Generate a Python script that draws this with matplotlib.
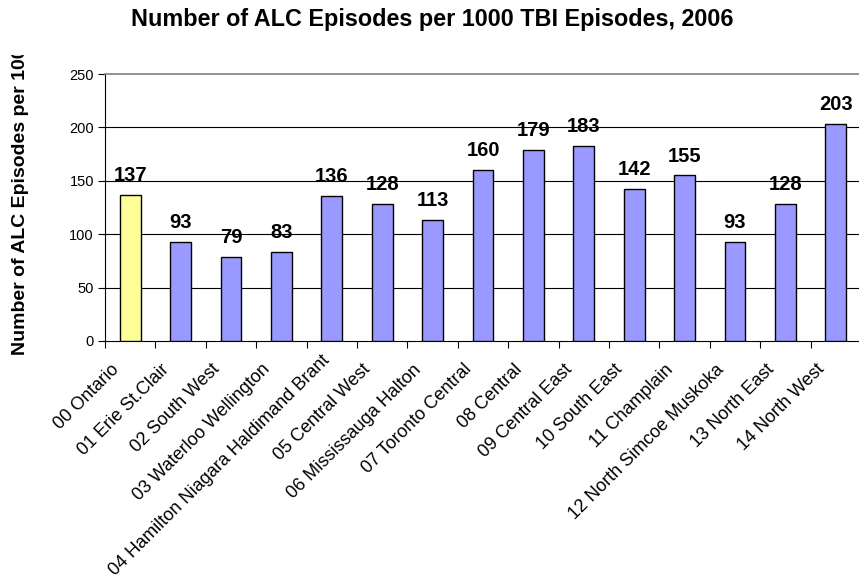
import numpy as np
import matplotlib
matplotlib.use("Agg")
import matplotlib.pyplot as plt
from matplotlib.transforms import Bbox, ScaledTranslation

plt.rcParams['font.family'] = ['Liberation Sans', 'DejaVu Sans']

# data
regions = ["00 Ontario", "01 Erie St.Clair", "02 South West", "03 Waterloo Wellington",
           "04 Hamilton Niagara Haldimand Brant", "05 Central West", "06 Mississauga Halton",
           "07 Toronto Central", "08 Central", "09 Central East", "10 South East",
           "11 Champlain", "12 North Simcoe Muskoka", "13 North East", "14 North West"]
values = [137, 93, 79, 83, 136, 128, 113, 160, 179, 183, 142, 155, 93, 128, 203]
colors = ["#FFFF99"] + ["#9999FF"] * 14

fig = plt.figure(figsize=(8.59, 5.84), dpi=100)
ax = fig.add_axes([105 / 859, 1 - 341 / 584, 756 / 859, 267 / 584])

x = np.arange(len(values))
ax.bar(x, values, width=0.41, color=colors, edgecolor="black", linewidth=1, zorder=3)

# value labels above bars
for xi, v in zip(x, values):
    ax.annotate(str(v), (xi, v), xytext=(0, 10), textcoords="offset points",
                ha="center", va="baseline", fontsize=14.5, fontweight="bold")

ax.set_xlim(-0.5, len(values) - 0.5)
ax.set_ylim(0, 250)
ax.set_yticks([0, 50, 100, 150, 200, 250])
ax.tick_params(axis="y", labelsize=10.5, length=5, width=0.8, direction="out", pad=3)

# ticks between categories, labels drawn as rotated text
ax.set_xticks([])
ax.set_xticks(np.arange(-0.5, len(values)), minor=True)
ax.tick_params(axis="x", which="minor", length=5, width=0.8, direction="out")
ax.xaxis.set_minor_formatter(plt.NullFormatter())

shift = ScaledTranslation(-14 / 100, -26 / 100, fig.dpi_scale_trans)
for xi, name in zip(x, regions):
    tr = ax.get_xaxis_transform() + shift
    if name.startswith("04"):
        # long label: pushed up and cut by the axis, as in the original
        tr = tr + ScaledTranslation(9 / 100, 9 / 100, fig.dpi_scale_trans)
    t = ax.text(xi, 0, name, transform=tr, rotation=45, rotation_mode="anchor",
                ha="right", va="center", fontsize=13, clip_on=False)
    if name.startswith("04"):
        t.set_clip_box(Bbox.from_extents(0, 0, 859, 584 - 350))
        t.set_clip_on(True)

for yv in [50, 100, 150, 200]:
    ax.axhline(yv, color="black", linewidth=0.8, zorder=1)

ax.spines["right"].set_visible(False)
ax.spines["top"].set_color("#808080")
ax.spines["top"].set_linewidth(1.2)
ax.spines["left"].set_linewidth(0.8)
ax.spines["bottom"].set_linewidth(0.8)

fig.text(432 / 859, 1 - 26 / 584, "Number of ALC Episodes per 1000 TBI Episodes, 2006",
         ha="center", va="baseline", fontsize=16.8, fontweight="bold")

# the y title is cut at the top in the original chart
ylab = fig.text(21 / 859, 1 - 355 / 584, "Number of ALC Episodes per 1000 TBI Episodes",
                rotation=90, ha="center", va="bottom", fontsize=14, fontweight="bold")
ylab.set_clip_box(Bbox.from_extents(0, 0, 859, 584 - 55))
ylab.set_clip_on(True)

fig.savefig("out.png", dpi=100)
